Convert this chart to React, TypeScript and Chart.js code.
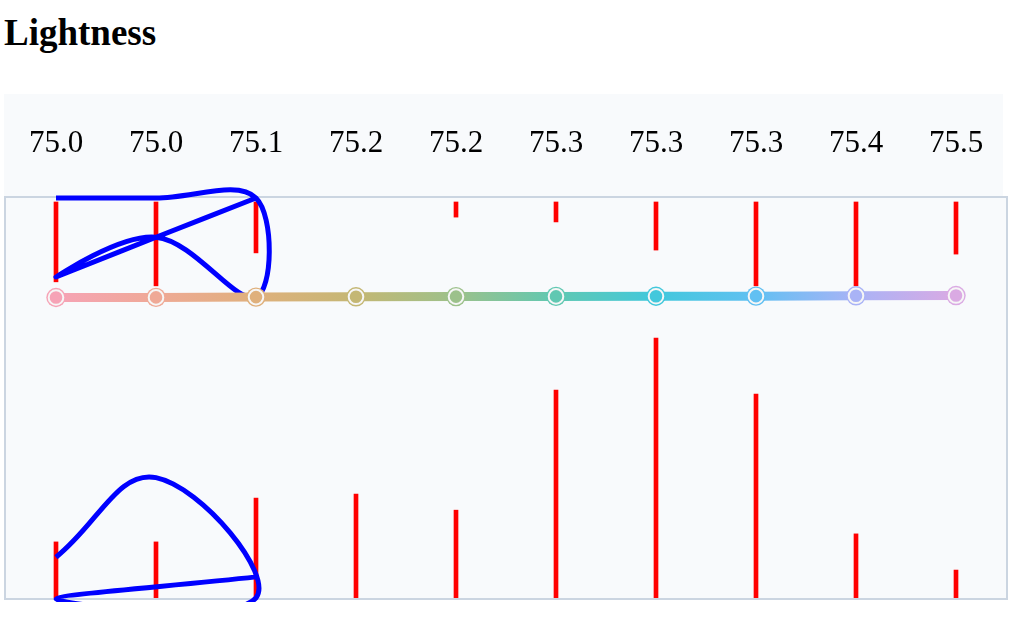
import React, { useEffect, useRef } from 'react';
import { Chart, registerables } from 'chart.js';

Chart.register(...registerables);

// Category tick labels (lightness of each swatch, rounded)
const lightnessLabels = ['75.0', '75.0', '75.1', '75.2', '75.2', '75.3', '75.3', '75.3', '75.4', '75.5'];
// Lightness value of each swatch (y of the gradient line)
const lightnessValues = [75.0, 75.02, 75.1, 75.18, 75.22, 75.27, 75.31, 75.34, 75.42, 75.48];
// Swatch colours
const swatchColors = ['#f6a3b6', '#efa996', '#dfb07c', '#c4b774', '#9cc18b', '#60c8b2', '#42c8dc', '#62c0f2', '#a9b3f6', '#daaae3'];

// Red bars hanging from the top
const topBarStart = 98.76;
const topBarEnd = [78.9, 77.9, 86.1, null, 95.0, 93.8, 86.8, 77.9, 77.9, 85.8];
// Red bars standing on the bottom
const bottomBarTop = [14.2, 14.2, 25.1, 26.1, 22.1, 52.0, 64.9, 51.0, 16.2, 7.2];

// Blue curves (x = category index, y = value)
const blueTopX = [0, 1, 2, 2, 1, 0, 1, 2];
const blueTopY = [99.75, 99.75, 99.75, 75.1, 90.0, 80.1, 90.0, 99.75];
const blueBottomX = [0, 1, 2, 0, 2];
const blueBottomY = [10.4, 30.2, 0.3, 0.0, 5.5];

const BG = '#f8fafc';
const BORDER = '#cbd5e1';
const SERIF = "'Liberation Serif', 'Times New Roman', serif";

export default function App() {
  const canvasRef = useRef<HTMLCanvasElement | null>(null);

  useEffect(() => {
    const canvas = canvasRef.current;
    if (!canvas) return;
    const g2d = canvas.getContext('2d') as CanvasRenderingContext2D;

    const bgPlugin = {
      id: 'bgBorder',
      beforeDraw(chart: any) {
        const { ctx, chartArea: a } = chart;
        ctx.save();
        ctx.fillStyle = BG;
        ctx.fillRect(0, 0, chart.width - 5, a.bottom);
        ctx.fillRect(a.left, a.top, a.right - a.left, a.bottom - a.top);
        ctx.restore();
      },
      afterDatasetDraw(chart: any, args: any) {
        if (args.index !== 1) return;
        const { ctx, chartArea: a } = chart;
        ctx.save();
        ctx.strokeStyle = BORDER;
        ctx.lineWidth = 2;
        ctx.strokeRect(a.left - 1, a.top, a.right - a.left + 2, a.bottom - a.top);
        ctx.restore();
      },
    };

    const idx = lightnessLabels.map((_, i) => i);

    const blueLine = {
      type: 'line',
      borderColor: '#0000ff',
      borderWidth: 5,
      borderJoinStyle: 'round',
      borderCapStyle: 'butt',
      capBezierPoints: false,
      pointRadius: 0,
      pointHoverRadius: 0,
      clip: false,
      order: 4,
    };

    const chart = new Chart(canvas, {
      type: 'bar',
      data: {
        datasets: [
          {
            type: 'bar',
            data: idx
              .filter((i) => topBarEnd[i] != null)
              .map((i) => ({ x: i, y: [topBarStart, topBarEnd[i]] })) as any,
            backgroundColor: '#ff0000',
            barThickness: 4,
            grouped: false,
            order: 6,
          },
          {
            type: 'bar',
            data: idx.map((i) => ({ x: i, y: bottomBarTop[i] })) as any,
            backgroundColor: '#ff0000',
            barThickness: 4,
            grouped: false,
            order: 5,
          },
          {
            ...blueLine,
            data: blueTopX.map((x, i) => ({ x, y: blueTopY[i] })),
            tension: 0.37,
          } as any,
          {
            ...blueLine,
            data: blueBottomX.map((x, i) => ({ x, y: blueBottomY[i] })),
            tension: 0.42,
          } as any,
          {
            type: 'line',
            data: idx.map((i) => ({ x: i, y: lightnessValues[i] })) as any,
            borderColor: swatchColors[0],
            borderWidth: 9,
            pointRadius: 0,
            pointHoverRadius: 0,
            tension: 0,
            order: 3,
            segment: {
              borderColor: (c: any) => {
                const gr = g2d.createLinearGradient(c.p0.x, 0, c.p1.x, 0);
                gr.addColorStop(0, swatchColors[c.p0DataIndex]);
                gr.addColorStop(1, swatchColors[c.p1DataIndex]);
                return gr;
              },
            },
          },
          {
            type: 'line',
            data: idx.map((i) => ({ x: i, y: lightnessValues[i] })) as any,
            showLine: false,
            pointRadius: 9.7,
            pointHoverRadius: 0,
            pointBorderWidth: 0,
            pointBackgroundColor: swatchColors,
            order: 2,
          },
          {
            type: 'line',
            data: idx.map((i) => ({ x: i, y: lightnessValues[i] })) as any,
            showLine: false,
            pointRadius: 7.3,
            pointHoverRadius: 0,
            pointBorderWidth: 2,
            pointBorderColor: '#f6f6f6',
            pointBackgroundColor: swatchColors,
            order: 1,
          },
        ],
      },
      options: {
        responsive: false,
        animation: false,
        events: [],
        layout: { autoPadding: false, padding: { top: 0, left: 2, right: 2, bottom: 3 } },
        plugins: {
          legend: { display: false },
          tooltip: { enabled: false },
          title: { display: false },
        },
        scales: {
          x: {
            type: 'linear',
            position: 'top',
            min: -0.5,
            max: 9.5,
            offset: false,
            grid: { display: false },
            border: { display: false },
            afterBuildTicks: (scale: any) => {
              scale.ticks = idx.map((i) => ({ value: i }));
            },
            afterFit: (scale: any) => {
              scale.height = 103;
              scale.paddingLeft = 0;
              scale.paddingRight = 0;
            },
            ticks: {
              color: '#000',
              padding: 27,
              maxRotation: 0,
              autoSkip: false,
              callback: (_v: any, i: number) => lightnessLabels[i],
              font: { family: SERIF, size: 31 },
            },
          },
          y: {
            type: 'linear',
            min: 0,
            max: 100,
            display: false,
          },
        },
      } as any,
      plugins: [bgPlugin],
    });

    return () => chart.destroy();
  }, []);

  return (
    <div style={{ position: 'absolute', left: 0, top: 0, width: 1032, height: 636 }}>
      <div
        style={{
          position: 'absolute',
          left: 4,
          top: 11,
          fontFamily: SERIF,
          fontWeight: 'bold',
          fontSize: 37,
          lineHeight: '44px',
          color: '#000',
          whiteSpace: 'nowrap',
        }}
      >
        Lightness
      </div>
      <canvas
        ref={canvasRef}
        width={1004}
        height={508}
        style={{ position: 'absolute', left: 4, top: 94, width: 1004, height: 508 }}
      />
    </div>
  );
}
